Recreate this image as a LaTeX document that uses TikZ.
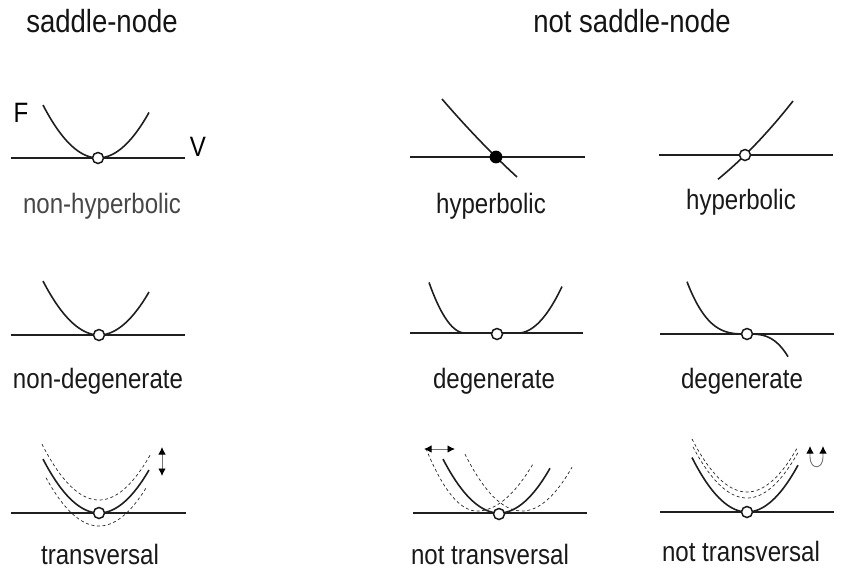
\documentclass[tikz,border=0pt]{standalone}
\usepackage{fontspec}
\setmainfont{Liberation Sans}[FakeStretch=0.86]
\usetikzlibrary{arrows.meta}
\tikzset{
  axisline/.style={line width=1.9pt, draw=black!88},
  curve/.style={line width=1.6pt, draw=black!88},
  dashcurve/.style={line width=0.7pt, draw=black!85, dash pattern=on 3pt off 2.6pt},
  opendot/.style={circle, draw=black!90, fill=white, line width=1.5pt, minimum size=11pt, inner sep=0pt},
  filldot/.style={circle, draw=black, fill=black, line width=1.2pt, minimum size=11.5pt, inner sep=0pt},
  title/.style={font=\fontsize{32}{36}\selectfont, text=black!92, anchor=base},
  label/.style={font=\fontsize{28}{32}\selectfont, text=black!90, anchor=base},
  dtip/.tip={Latex[length=7.5pt,width=7.5pt,color=black]},
  moveline/.style={line width=0.9pt, draw=black!55, arrows={dtip-dtip}},
}
\begin{document}
\begin{tikzpicture}[x=1pt,y=-1pt]
\useasboundingbox (0,0) rectangle (844,571);
% titles
\node[title] (t1) at (102,32) {saddle-node};
\node[title] (t2) at (632,32) {not saddle-node};

% ---------- row 1 ----------
\draw[axisline] (11,158) -- (185,158);
\draw[curve] plot[domain=43:149, samples=60] (\x, {158-0.0175*(\x-98)^2});
\node[opendot] (c11) at (98,158) {};
\node[font=\fontsize{28}{32}\selectfont] (F) at (21,113) {F};
\node[font=\fontsize{28}{32}\selectfont] (V) at (198,147) {V};
\node[label, text=black!72] (l11) at (102,213) {non-hyperbolic};

\draw[axisline] (410,157) -- (585,157);
\draw[curve] plot[domain=442:517, samples=50] (\x, {157+0.986*(\x-496)-0.00163*(\x-496)^2});
\node[filldot] (c12) at (496,157) {};
\node[label] (l12) at (491,213) {hyperbolic};

\draw[axisline] (659,155) -- (833,155);
\draw[curve] plot[domain=718:793, samples=50] (\x, {155-0.98*(\x-745)-0.003*(\x-745)^2});
\node[opendot] (c13) at (745,155) {};
\node[label] (l13) at (741,209) {hyperbolic};

% ---------- row 2 ----------
\draw[axisline] (11,335) -- (185,335);
\draw[curve] plot[domain=43:149, samples=60] (\x, {335-0.0172*(\x-99)^2});
\node[opendot] (c21) at (99,335) {};
\node[label] (l21) at (98,388) {non-degenerate};

\draw[axisline] (410,333) -- (583,333);
\draw[curve] plot[domain=429:465, samples=30] (\x, {333-0.039*(465-\x)^2}) -- plot[domain=518:562, samples=30] (\x, {333-0.024*(\x-518)^2});
\node[opendot] (c22) at (497,334) {};
\node[label] (l22) at (494,388) {degenerate};

\draw[axisline] (660,334) -- (834,334);
\draw[curve] plot[domain=687:747, samples=40] (\x, {334-52.3*((747-\x)/60)^3}) -- plot[domain=747:788, samples=30] (\x, {334+22.7*((\x-747)/41)^3});
\node[opendot] (c23) at (747,334) {};
\node[label] (l23) at (742,388) {degenerate};

% ---------- row 3 ----------
\draw[axisline] (11,513) -- (186,513);
\draw[dashcurve] plot[domain=42:150, samples=60] (\x, {500-0.0172*(\x-99)^2});
\draw[dashcurve] plot[domain=46:147, samples=60] (\x, {526-0.0172*(\x-99)^2});
\draw[curve] plot[domain=43:149, samples=60] (\x, {513-0.0172*(\x-99)^2});
\node[opendot] (c31) at (99,513) {};
\coordinate (a1) at (162,447);
\coordinate (a2) at (162,476);
\draw[moveline] (a1) -- (a2);
\node[label] (l31) at (100,564) {transversal};

\draw[axisline] (413,513) -- (587,513);
\draw[dashcurve] plot[domain=426:477, samples=40] (\x, {511-0.024*(477-\x)^2}) -- plot[domain=477:533, samples=40] (\x, {511-0.015*(\x-477)^2});
\draw[dashcurve] plot[domain=465:572, samples=60] (\x, {511-0.0175*(\x-522)^2});
\draw[curve] plot[domain=443:550, samples=60] (\x, {513-0.0172*(\x-499)^2});
\node[opendot] (c32) at (499,514) {};
\coordinate (b1) at (424,449);
\coordinate (b2) at (455,449);
\draw[moveline] (b1) -- (b2);
\node[label] (l32) at (490,564) {not transversal};

\draw[axisline] (660,512) -- (834,512);
\draw[dashcurve] plot[domain=692:798, samples=60] (\x, {492-0.0175*(\x-747)^2});
\draw[dashcurve] plot[domain=693:799, samples=60] (\x, {498-0.0175*(\x-747)^2});
\draw[curve] plot[domain=692:798, samples=60] (\x, {512-0.018*(\x-747)^2});
\node[opendot] (c33) at (747,512) {};
\coordinate (u1) at (810,446);
\coordinate (u2) at (823,446);
\draw[moveline] (u1) -- (810,457) .. controls (810,470) and (823,470) .. (823,457) -- (u2);
\node[label] (l33) at (741,561) {not transversal};
\end{tikzpicture}
\end{document}
